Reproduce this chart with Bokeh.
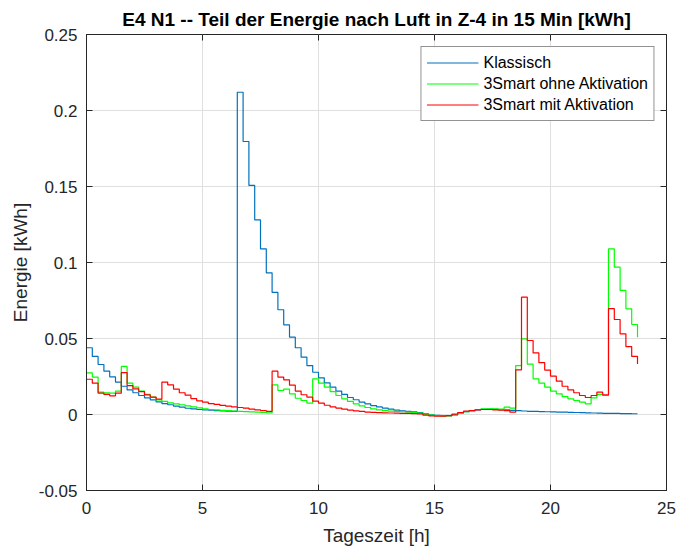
import numpy as np
from bokeh.plotting import figure
from bokeh.models import LinearAxis, FixedTicker, PrintfTickFormatter, CustomJSTickFormatter, Legend
from bokeh.embed import file_html
from bokeh.resources import INLINE

# time of day in hours, 15-minute steps
hours = [i * 0.25 for i in range(96)]

klassisch = [
    0.0439, 0.0382, 0.0329, 0.0285, 0.0248, 0.0213, 0.0186, 0.0162, 0.0143, 0.0125,
    0.0110, 0.0096, 0.0083, 0.0072, 0.0064, 0.0055, 0.0048, 0.0041, 0.0037, 0.0033,
    0.0030, 0.0028, 0.0026, 0.0024, 0.0022, 0.0020,
    0.2120, 0.1796, 0.1507, 0.1280, 0.1090, 0.0932, 0.0803, 0.0689, 0.0590, 0.0509,
    0.0439, 0.0377, 0.0322, 0.0278, 0.0241, 0.0208, 0.0180, 0.0154, 0.0132, 0.0112,
    0.0097, 0.0082, 0.0070,
    0.0059, 0.0050, 0.0042, 0.0035, 0.0029, 0.0024, 0.0020, 0.0017, 0.0013,
    0.0004, -0.0002, -0.0006, -0.0008, -0.0007, -0.0002, 0.0009, 0.0018, 0.0026, 0.0031,
    0.0034, 0.0035, 0.0034, 0.0032, 0.0030, 0.0027, 0.0025, 0.0023, 0.0021, 0.0020,
    0.0019, 0.0018, 0.0017, 0.0016, 0.0015, 0.0014, 0.0013, 0.0012, 0.0011, 0.0010,
    0.0009, 0.0008, 0.0008, 0.0007, 0.0006, 0.0006, 0.0005, 0.0005,
]

ohne_aktivation = [
    0.0274, 0.0246, 0.0147, 0.0142, 0.0140, 0.0154, 0.0316, 0.0206, 0.0180, 0.0154,
    0.0132, 0.0114, 0.0096, 0.0086, 0.0077, 0.0070, 0.0064, 0.0057, 0.0050, 0.0044,
    0.0037, 0.0033, 0.0030, 0.0027, 0.0025, 0.0023, 0.0021, 0.0019, 0.0017, 0.0015,
    0.0013, 0.0011,
    0.0195, 0.0158, 0.0167, 0.0136, 0.0107, 0.0092, 0.0075,
    0.0235, 0.0206, 0.0180, 0.0151, 0.0125, 0.0103, 0.0086, 0.0070, 0.0057, 0.0046,
    0.0037, 0.0031, 0.0026, 0.0022, 0.0020, 0.0018, 0.0016, 0.0013, 0.0009,
    0.0000, -0.0004, -0.0007, -0.0009, -0.0009, -0.0004, 0.0009, 0.0018, 0.0026, 0.0033,
    0.0037, 0.0037, 0.0037, 0.0035, 0.0048, 0.0042,
    0.0322, 0.0498, 0.0331, 0.0235, 0.0206, 0.0180, 0.0154, 0.0136, 0.0118, 0.0103,
    0.0092, 0.0081, 0.0070, 0.0110, 0.0132, 0.0125,
    0.1090, 0.0969, 0.0816, 0.0695, 0.0592, 0.0509,
]

mit_aktivation = [
    0.0232, 0.0206, 0.0140, 0.0132, 0.0123, 0.0140, 0.0276, 0.0190, 0.0169, 0.0151,
    0.0129, 0.0114, 0.0101, 0.0213, 0.0195, 0.0167, 0.0143, 0.0127, 0.0105, 0.0090,
    0.0081, 0.0072, 0.0066, 0.0060, 0.0055, 0.0050, 0.0046, 0.0042, 0.0036, 0.0031,
    0.0026, 0.0021,
    0.0285, 0.0246, 0.0228, 0.0193, 0.0154, 0.0130, 0.0114,
    0.0088, 0.0075, 0.0061, 0.0050, 0.0042, 0.0035, 0.0029, 0.0024, 0.0020, 0.0016,
    0.0014, 0.0012, 0.0011, 0.0010, 0.0009, 0.0008, 0.0007, 0.0006, 0.0004,
    -0.0004, -0.0009, -0.0011, -0.0011, -0.0008, 0.0002, 0.0013, 0.0022, 0.0026, 0.0031,
    0.0033, 0.0033, 0.0031, 0.0028, 0.0026, 0.0015,
    0.0294, 0.0772, 0.0487, 0.0405, 0.0341, 0.0292, 0.0252, 0.0219, 0.0186, 0.0162,
    0.0143, 0.0125, 0.0112, 0.0125, 0.0147, 0.0129,
    0.0697, 0.0625, 0.0531, 0.0447, 0.0382, 0.0333,
]

x_ticks = [0, 5, 10, 15, 20, 25]
y_ticks = [-0.05, 0, 0.05, 0.1, 0.15, 0.2, 0.25]

title_text = "E4 N1 -- Teil der Energie nach Luft in Z-4 in 15 Min [kWh]"
series_names = ["Klassisch", "3Smart ohne Aktivation", "3Smart mit Aktivation"]
series_colors = ["#0072BD", "#00FF00", "#FF0000"]

FONT = "Liberation Sans"
AX = "#262626"

p = figure(width=679, height=548, x_range=(0, 25), y_range=(-0.05, 0.25),
           output_backend="svg", toolbar_location=None,
           min_border_left=86, min_border_right=13, min_border_top=34, min_border_bottom=58,
           background_fill_color="white", border_fill_color="white")

p.title.text = title_text
p.title.text_font = FONT
p.title.text_font_size = "19px"
p.title.text_font_style = "bold"
p.title.text_color = "#000000"
p.title.align = "center"
p.title.standoff = 10

p.outline_line_color = AX
p.outline_line_width = 1
p.outline_line_alpha = 1

for ax in p.xaxis + p.yaxis:
    ax.axis_line_color = AX
    ax.major_tick_line_color = AX
    ax.major_tick_in = 6
    ax.major_tick_out = 0
    ax.minor_tick_line_color = None
    ax.major_label_text_font = FONT
    ax.major_label_text_font_size = "17px"
    ax.major_label_text_color = AX
    ax.axis_label_text_font = FONT
    ax.axis_label_text_font_size = "19px"
    ax.axis_label_text_font_style = "normal"
    ax.axis_label_text_color = AX

p.xaxis.ticker = FixedTicker(ticks=x_ticks)
p.yaxis.ticker = FixedTicker(ticks=y_ticks)
p.xaxis.formatter = PrintfTickFormatter(format="%g")
p.yaxis.formatter = PrintfTickFormatter(format="%g")
p.xaxis.axis_label = "Tageszeit [h]"
p.yaxis.axis_label = "Energie [kWh]"
p.xaxis.major_label_standoff = 11
p.xaxis.axis_label_standoff = 8
p.yaxis.major_label_standoff = 9
p.yaxis.axis_label_standoff = 5

# inward ticks on top and right (box style), no labels
blank = CustomJSTickFormatter(code="return '';")
top_ax = LinearAxis(ticker=FixedTicker(ticks=x_ticks), formatter=blank,
                    axis_line_color=None, major_tick_line_color=AX, major_tick_in=6,
                    major_tick_out=0, minor_tick_line_color=None, major_label_standoff=0)
right_ax = LinearAxis(ticker=FixedTicker(ticks=y_ticks), formatter=blank,
                      axis_line_color=None, major_tick_line_color=AX, major_tick_in=6,
                      major_tick_out=0, minor_tick_line_color=None, major_label_standoff=0)
p.add_layout(top_ax, "above")
p.add_layout(right_ax, "right")

p.xgrid.ticker = FixedTicker(ticks=x_ticks)
p.ygrid.ticker = FixedTicker(ticks=y_ticks)
p.xgrid.grid_line_color = "#dfdfdf"
p.ygrid.grid_line_color = "#dfdfdf"
p.xgrid.grid_line_width = 1
p.ygrid.grid_line_width = 1

items = []
for name, col, vals in zip(series_names, series_colors,
                           [klassisch, ohne_aktivation, mit_aktivation]):
    r = p.step(hours, vals, mode="after", line_color=col, line_width=1.2)
    items.append((name, [r]))

legend = Legend(items=items, location="top_right")
legend.label_text_font = FONT
legend.label_text_font_size = "16px"
legend.label_text_color = "#000000"
legend.border_line_color = AX
legend.border_line_width = 1
legend.background_fill_color = "white"
legend.background_fill_alpha = 1
legend.glyph_width = 52
legend.glyph_height = 21
legend.label_height = 21
legend.label_standoff = 5
legend.spacing = 0
legend.padding = 5
legend.margin = 12
p.add_layout(legend, "center")

open("out.html", "w").write(file_html(p, INLINE))
